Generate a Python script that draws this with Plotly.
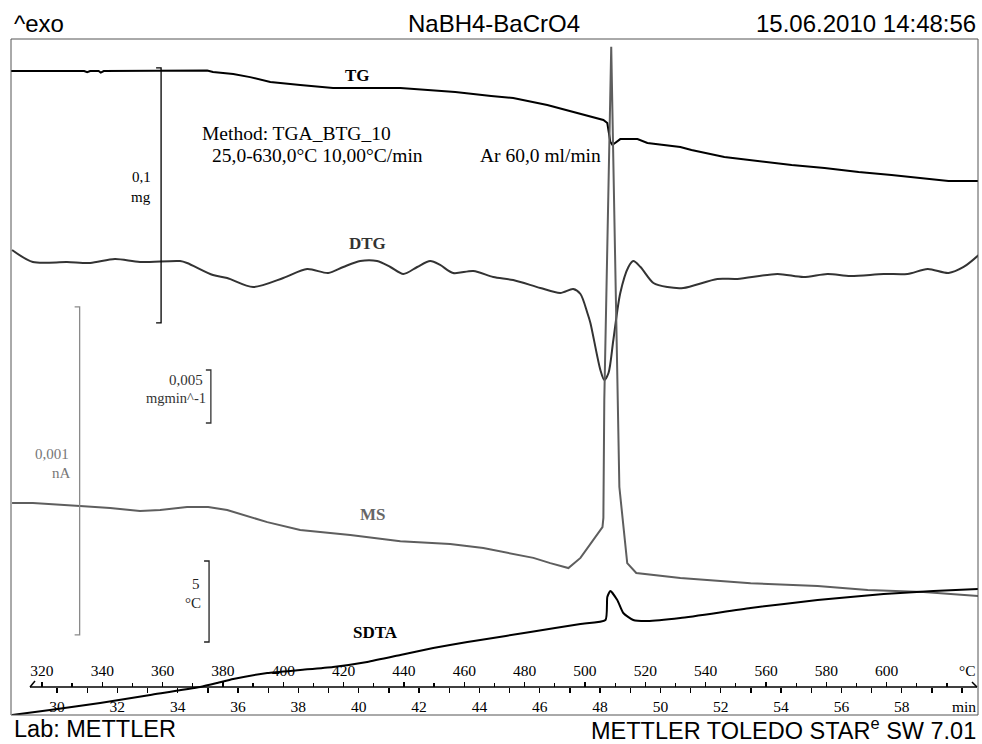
import plotly.graph_objects as go

# ------------------------------------------------------------------ data
# time in min (heating 10 °C/min from 25 °C)
TG_time = [28.47, 30.90, 31.00, 31.10, 31.38, 31.45, 31.55, 34.98, 35.17, 35.84, 36.40,
           37.07, 38.06, 39.15, 41.38, 43.20, 44.39, 45.12, 46.25, 47.35, 48.11, 48.24,
           48.34, 48.41, 48.57, 48.67, 49.24, 49.57, 50.66, 51.03, 52.12, 53.25, 54.35,
           55.44, 56.57, 57.66, 58.76, 59.55, 60.55]
TG_mg = [0.0000, 0.0000, -0.0005, 0.0000, 0.0000, -0.0006, 0.0000, 0.0002, -0.0004, -0.0012,
         -0.0024, -0.0043, -0.0055, -0.0067, -0.0067, -0.0082, -0.0098, -0.0106, -0.0133,
         -0.0169, -0.0192, -0.0204, -0.0278, -0.0290, -0.0278, -0.0267, -0.0267, -0.0282,
         -0.0298, -0.0310, -0.0337, -0.0353, -0.0369, -0.0380, -0.0396, -0.0408, -0.0420,
         -0.0431, -0.0431]

DTG_time = [28.51, 29.20, 30.33, 31.10, 31.92, 32.75, 34.08, 34.31, 35.17, 35.64, 36.50,
            37.50, 38.29, 38.99, 39.49, 40.05, 40.61, 41.05, 41.48, 41.94, 42.37, 42.70,
            43.13, 43.80, 44.46, 45.12, 46.02, 46.68, 47.11, 47.35, 47.58, 47.68, 48.01,
            48.14, 48.28, 48.44, 48.67, 48.94, 49.10, 49.34, 49.77, 50.23, 50.76, 51.89,
            52.55, 53.88, 54.74, 55.54, 56.30, 57.40, 58.19, 58.86, 59.55, 60.05, 60.55]
DTG_mg_min = [0.00113, 0.00000, 0.00000, -0.00009, 0.00028, 0.00000, 0.00009, -0.00009,
              -0.00123, -0.00151, -0.00236, -0.00151, -0.00066, -0.00104, -0.00047, 0.00009,
              0.00009, -0.00047, -0.00113, -0.00047, 0.00009, -0.00028, -0.00104, -0.00085,
              -0.00142, -0.00170, -0.00245, -0.00292, -0.00255, -0.00302, -0.00481, -0.00575,
              -0.01019, -0.01113, -0.01047, -0.00736, -0.00292, -0.00047, 0.00009, -0.00047,
              -0.00198, -0.00236, -0.00245, -0.00160, -0.00160, -0.00113, -0.00142, -0.00113,
              -0.00132, -0.00113, -0.00113, -0.00066, -0.00104, -0.00047, 0.00066]

MS_time = [28.51, 29.20, 30.76, 31.76, 32.75, 33.42, 34.31, 35.01, 35.64, 36.97, 38.06,
           39.72, 41.38, 43.03, 44.13, 45.79, 46.35, 46.95, 47.35, 47.84, 48.08, 48.11,
           48.14, 48.37, 48.57, 48.64, 48.90, 49.20, 50.66, 52.99, 55.21, 56.87, 58.72, 60.55]
MS_nA = [0.000646, 0.000646, 0.000637, 0.000631, 0.000622, 0.000625, 0.000634, 0.000634,
         0.000625, 0.000588, 0.000564, 0.000549, 0.000530, 0.000521, 0.000509, 0.000479,
         0.000463, 0.000448, 0.000479, 0.000543, 0.000573, 0.000601, 0.000960, 0.002037,
         0.000960, 0.000695, 0.000463, 0.000433, 0.000418, 0.000402, 0.000393, 0.000381,
         0.000375, 0.000363]

SDTA_time = [28.51, 29.77, 31.43, 33.09, 34.74, 35.31, 35.84, 36.97, 38.06, 39.15, 40.28,
             41.38, 42.47, 43.60, 44.03, 45.69, 47.35, 48.18, 48.24, 48.34, 48.57, 48.77,
             49.10, 49.57, 50.66, 52.99, 55.21, 57.40, 59.05, 60.55]
SDTA_C = [0.000, 0.309, 0.741, 1.235, 1.728, 1.975, 2.222, 2.593, 2.778, 2.963, 3.272,
          3.704, 4.136, 4.506, 4.630, 5.123, 5.617, 5.864, 7.284, 7.654, 7.099, 6.296,
          5.864, 5.802, 5.988, 6.605, 7.099, 7.469, 7.654, 7.778]

TIME_TICKS = list(range(30, 59, 2))          # labelled
TIME_MINOR = list(range(30, 61, 1))          # all tick marks
TEMP_TICKS = list(range(320, 601, 20))       # labelled
TEMP_MINOR = list(range(320, 621, 10))       # all tick marks

# scale bars: (label value, unit, bar start value, bar span)
TG_BAR = ("0,1", "mg", -0.0988, 0.1)
DTG_BAR = ("0,005", "mgmin^-1", -0.01519, 0.005)
MS_BAR = ("0,001", "nA", 0.000244, 0.001)
SDTA_BAR = ("5", "°C", 4.506, 5.0)

# ------------------------------------------------------------------ layout geometry
W, H = 982, 744
ML, MR, MT, MB = 11, 4, 39, 29
PW, PH = W - ML - MR, H - MT - MB
T0, T1 = 28.475, 60.527            # time range (min)
RATE, TSTART = 10.0, 25.0          # °C/min, °C


def px(x, y):
    """pixel -> paper coordinates"""
    return (x - ML) / PW, (H - MB - y) / PH


def ydom(v_at_px, px_ref, per_px):
    """y range such that value v_at_px sits at pixel row px_ref"""
    lo = v_at_px - (H - MB - px_ref) * per_px
    hi = v_at_px + (px_ref - MT) * per_px
    return [lo, hi]


TG_RANGE = ydom(0.0, 71, 0.1 / 255)
DTG_RANGE = ydom(0.0, 262, 0.005 / 53)
MS_RANGE = ydom(0.0, 715, 0.001 / 328)
SDTA_RANGE = ydom(0.0, 715, 5.0 / 81)

C_TG, C_DTG, C_MS, C_SDTA = "#000000", "#333333", "#5e5e5e", "#000000"
SERIF = "Liberation Serif, Times New Roman, serif"
SANS = "Liberation Sans, Arial, sans-serif"

fig = go.Figure()
fig.add_trace(go.Scatter(x=TG_time, y=TG_mg, mode="lines", yaxis="y",
                         line=dict(color=C_TG, width=2), hoverinfo="skip"))
fig.add_trace(go.Scatter(x=DTG_time, y=DTG_mg_min, mode="lines", yaxis="y2",
                         line=dict(color=C_DTG, width=2, shape="spline", smoothing=0.8),
                         hoverinfo="skip"))
fig.add_trace(go.Scatter(x=MS_time, y=MS_nA, mode="lines", yaxis="y3",
                         line=dict(color=C_MS, width=2), hoverinfo="skip"))
fig.add_trace(go.Scatter(x=SDTA_time, y=SDTA_C, mode="lines", yaxis="y4",
                         line=dict(color=C_SDTA, width=2, shape="spline", smoothing=0.5),
                         hoverinfo="skip"))
# invisible carrier so that the temperature axis (x2) is drawn
fig.add_trace(go.Scatter(x=TEMP_TICKS, y=[TG_RANGE[0]] * len(TEMP_TICKS), xaxis="x2", yaxis="y",
                         mode="markers", marker=dict(opacity=0), hoverinfo="skip"))

axis_y = (H - MB - 687) / PH
shapes = []
annotations = []

# frame
shapes.append(dict(type="rect", xref="paper", yref="paper", x0=0, x1=1, y0=0, y1=1,
                   line=dict(color="#555555", width=1)))
# axis line with half arrows
for (a, b) in [((30, 687), (977, 687)), ((30, 687), (35, 681)), ((977, 687), (972, 682))]:
    xa, ya = px(*a)
    xb, yb = px(*b)
    shapes.append(dict(type="line", xref="paper", yref="paper", x0=xa, y0=ya, x1=xb, y1=yb,
                       line=dict(color="black", width=1.5)))

# scale bars
stub = 5 / PW * (T1 - T0)
for bar, yref, xpos, col in [(TG_BAR, "y", 33.45, "#000000"), (DTG_BAR, "y2", 35.10, "#333333"),
                             (MS_BAR, "y3", 30.75, "#8a8a8a"), (SDTA_BAR, "y4", 35.04, "#222222")]:
    y0 = bar[2]
    y1 = bar[2] + bar[3]
    shapes.append(dict(type="path", xref="x", yref=yref,
                       path=f"M {xpos - stub},{y0} L {xpos},{y0} L {xpos},{y1} L {xpos - stub},{y1}",
                       line=dict(color=col, width=1.3)))


def text(x, y, s, size, color="black", family=SERIF, xanchor="left", bold=False):
    xp, yp = px(x, y)
    annotations.append(dict(x=xp, y=yp, xref="paper", yref="paper", text=(f"<b>{s}</b>" if bold else s),
                            showarrow=False, xanchor=xanchor, yanchor="middle",
                            font=dict(size=size, color=color, family=family)))


# scale bar labels
text(153, 177, TG_BAR[0], 15, "#000000", xanchor="right")
text(153, 197, TG_BAR[1], 15, "#000000", xanchor="right")
text(205, 380, DTG_BAR[0], 15, "#333333", xanchor="right")
text(208, 398, DTG_BAR[1], 14.5, "#333333", xanchor="right")
text(71, 454, MS_BAR[0], 15, "#777777", xanchor="right")
text(73, 473, MS_BAR[1], 15, "#777777", xanchor="right")
text(202, 584, SDTA_BAR[0], 15, "#222222", xanchor="right")
text(203, 603, SDTA_BAR[1], 15, "#222222", xanchor="right")

# curve labels
text(357, 75, "TG", 17, C_TG, xanchor="center", bold=True)
text(367, 243, "DTG", 17, C_DTG, xanchor="center", bold=True)
text(373, 514, "MS", 17, "#666666", xanchor="center", bold=True)
text(375, 632, "SDTA", 17, C_SDTA, xanchor="center", bold=True)

# method info
text(200, 133, "Method: TGA_BTG_10", 19.5)
text(210, 155, "25,0-630,0°C 10,00°C/min", 19.5)
text(478, 155, "Ar 60,0 ml/min", 19.5)

# axis unit labels
text(978, 670, "°C", 15.5, xanchor="right")
text(978, 706, "min", 15.5, xanchor="right")

# header / footer
text(12, 23, "^exo", 24, family=SANS)
text(494, 23, "NaBH4-BaCrO4", 24, family=SANS, xanchor="center")
text(978, 23, "15.06.2010 14:48:56", 24, family=SANS, xanchor="right")
text(12, 729, "Lab: METTLER", 23.5, family=SANS)
text(978, 729, "METTLER TOLEDO STAR<sup>e</sup> SW 7.01", 23.5, family=SANS, xanchor="right")

fig.update_layout(
    width=W, height=H, margin=dict(l=ML, r=MR, t=MT, b=MB, pad=0),
    paper_bgcolor="white", plot_bgcolor="white", showlegend=False,
    xaxis=dict(range=[T0, T1], anchor="free", position=axis_y, side="bottom",
               tickmode="array", tickvals=TIME_TICKS,
               ticks="outside", ticklen=5, tickwidth=1.3, tickcolor="black",
               minor=dict(tickvals=TIME_MINOR, ticks="outside", ticklen=5, tickwidth=1.3,
                          tickcolor="black"),
               showline=False, showgrid=False, zeroline=False,
               tickfont=dict(family=SERIF, size=15.5, color="black")),
    xaxis2=dict(range=[TSTART + RATE * T0, TSTART + RATE * T1], overlaying="x", anchor="free",
                position=axis_y, side="top",
                tickmode="array", tickvals=TEMP_TICKS,
                ticks="outside", ticklen=5, tickwidth=1.3, tickcolor="black",
                minor=dict(tickvals=TEMP_MINOR, ticks="outside", ticklen=4, tickwidth=1.3,
                           tickcolor="black"),
                showline=False, showgrid=False, zeroline=False,
                tickfont=dict(family=SERIF, size=15.5, color="black")),
    yaxis=dict(range=TG_RANGE, visible=False),
    yaxis2=dict(range=DTG_RANGE, overlaying="y", visible=False),
    yaxis3=dict(range=MS_RANGE, overlaying="y", visible=False),
    yaxis4=dict(range=SDTA_RANGE, overlaying="y", visible=False),
    shapes=shapes, annotations=annotations,
)

fig.write_html("out.html", config={"displayModeBar": False, "staticPlot": True},
               post_script="document.body.style.margin='0';document.body.style.overflow='hidden';")
